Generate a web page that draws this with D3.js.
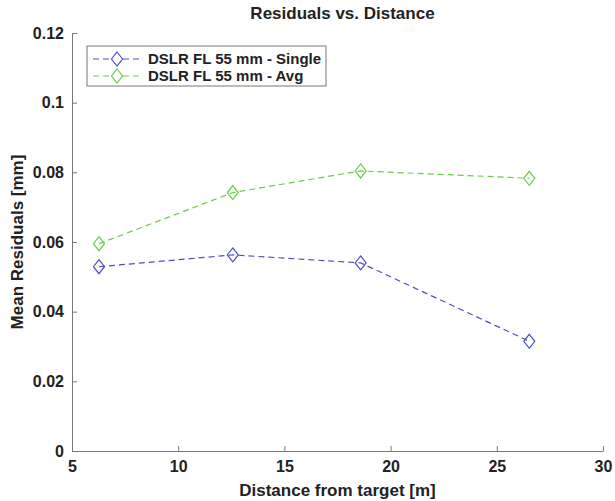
<!DOCTYPE html>
<meta charset="utf-8">
<script src="https://d3js.org/d3.v7.min.js"></script>
<style>
  body { margin: 0; background: #fff; }
  text { font-family: "Liberation Sans", Arial, sans-serif; font-weight: bold; fill: #222; }
</style>
<div id="chart"></div>
<script>
// distances [m]
var distances = [6.27, 12.57, 18.59, 26.53];
var singleVals = [0.0529, 0.0563, 0.0540, 0.0315];
var avgVals = [0.0595, 0.0742, 0.0804, 0.0783];
var seriesNames = ["DSLR FL 55 mm - Single", "DSLR FL 55 mm - Avg"];
var seriesColors = ["#4c4cc4", "#6acb45"];
var xTicks = [5, 10, 15, 20, 25, 30];
var yTicks = [0, 0.02, 0.04, 0.06, 0.08, 0.1, 0.12];

var W = 615, H = 501;
var margin = { top: 33, right: 12, bottom: 50, left: 72 };
var width = W - margin.left - margin.right,
    height = H - margin.top - margin.bottom;

var svg = d3.select("#chart").append("svg")
    .attr("width", W).attr("height", H);
var g = svg.append("g")
    .attr("transform", "translate(" + margin.left + "," + margin.top + ")");

var x = d3.scaleLinear().domain([5, 30]).range([0, width]);
var y = d3.scaleLinear().domain([0, 0.12]).range([height, 0]);

// axes, ticks pointing inward like matlab
var xAxis = g.append("g")
    .attr("transform", "translate(0," + height + ")")
    .call(d3.axisBottom(x).tickValues(xTicks).tickSizeInner(-5).tickSizeOuter(0).tickPadding(10)
        .tickFormat(d3.format("d")));
var yAxis = g.append("g")
    .call(d3.axisLeft(y).tickValues(yTicks).tickSizeInner(-5).tickSizeOuter(0).tickPadding(8)
        .tickFormat(function(d) { return d === 0 ? "0" : String(+d.toFixed(2)); }));
[xAxis, yAxis].forEach(function(a) {
  a.selectAll("path.domain").attr("stroke", "#777");
  a.selectAll("line").attr("stroke", "#777");
  a.selectAll("text").style("font-size", "16px").attr("fill", "#222");
});

var series = [singleVals, avgVals].map(function(vals, i) {
  return { name: seriesNames[i], color: seriesColors[i],
           points: vals.map(function(v, j) { return [distances[j], v]; }) };
});

var line = d3.line().x(function(d) { return x(d[0]); }).y(function(d) { return y(d[1]); });
var diamond = "M0,-7L5.5,0L0,7L-5.5,0Z";

series.forEach(function(s) {
  g.append("path")
      .attr("d", line(s.points))
      .attr("fill", "none")
      .attr("stroke", s.color)
      .attr("stroke-width", 1.2)
      .attr("stroke-dasharray", "6,4");
  g.selectAll(null).data(s.points).enter().append("path")
      .attr("d", diamond)
      .attr("transform", function(d) { return "translate(" + x(d[0]) + "," + y(d[1]) + ")"; })
      .attr("fill", "none")
      .attr("stroke", s.color)
      .attr("stroke-width", 1.2);
});

// title and labels
svg.append("text").attr("x", margin.left + width / 2 + 5).attr("y", 19)
    .attr("text-anchor", "middle").style("font-size", "17px").text("Residuals vs. Distance");
svg.append("text").attr("x", margin.left + width / 2).attr("y", 496)
    .attr("text-anchor", "middle").style("font-size", "17px").text("Distance from target [m]");
svg.append("text").attr("transform", "translate(23," + (margin.top + height / 2) + ") rotate(-90)")
    .attr("text-anchor", "middle").style("font-size", "17px").text("Mean Residuals [mm]");

// legend
var leg = svg.append("g").attr("transform", "translate(87,46)");
leg.append("rect").attr("width", 239).attr("height", 40)
    .attr("fill", "#fff").attr("stroke", "#555").attr("stroke-width", 0.8);
series.forEach(function(s, i) {
  var ly = 13 + i * 17;
  leg.append("line").attr("x1", 6).attr("x2", 53).attr("y1", ly).attr("y2", ly)
      .attr("stroke", s.color).attr("stroke-width", 1.2).attr("stroke-dasharray", "6,4");
  leg.append("path").attr("d", diamond).attr("transform", "translate(30," + ly + ")")
      .attr("fill", "#fff").attr("stroke", s.color).attr("stroke-width", 1.2);
  leg.append("text").attr("x", 61).attr("y", ly + 5).style("font-size", "15px").text(s.name);
});
</script>
